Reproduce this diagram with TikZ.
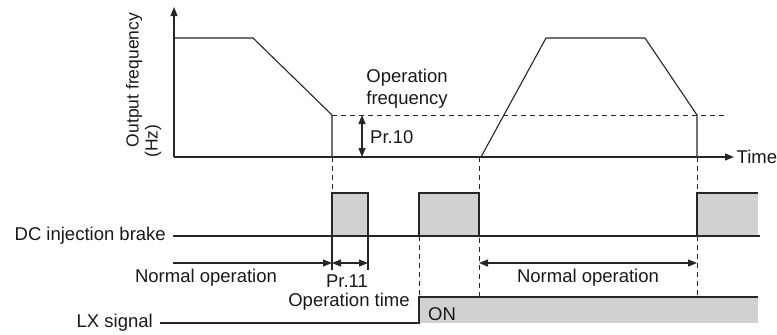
\documentclass[tikz,border=0pt]{standalone}
\usepackage{fontspec}
\setmainfont{Liberation Sans}
\usetikzlibrary{arrows.meta}
\begin{document}
\begin{tikzpicture}[x=1bp,y=-1bp,
  ln/.style={line width=1.1bp, draw=black!85},
  dsh/.style={line width=0.9bp, draw=black!85, dash pattern=on 5bp off 4bp},
  tip/.style={-{Triangle[length=9bp,width=7bp]}},
  dtip/.style={{Triangle[length=9bp,width=7bp]}-{Triangle[length=9bp,width=7bp]}},
  graybox/.style={fill=black!18},
  lbl/.style={font=\fontsize{18.5bp}{22bp}\selectfont, inner sep=0pt, text=black!90},
  rlbl/.style={font=\fontsize{17.5bp}{22bp}\selectfont, inner sep=0pt, text=black!90}]
\useasboundingbox (0,0) rectangle (777,334);
% axes
\coordinate (o) at (174,157);
\coordinate (ytop) at (174,7);
\coordinate (xend) at (734,157);
\draw[ln,tip] (o) -- (ytop);
\draw[ln,tip] (o) -- (xend);
\node[lbl,anchor=west] (time) at (736.5,157) {Time};
\node[rlbl,rotate=90] (ylab1) at (134,80) {Output frequency};
\node[rlbl,rotate=90] (ylab2) at (153,141) {(Hz)};
% frequency curves
\coordinate (a1) at (174,38);
\coordinate (a2) at (253,38);
\coordinate (a3) at (332,115);
\coordinate (a4) at (332,157);
\draw[ln] (a1) -- (a2) -- (a3) -- (a4);
\coordinate (b1) at (481,157);
\coordinate (b2) at (546,38);
\coordinate (b3) at (645,38);
\coordinate (b4) at (697,115);
\coordinate (b5) at (697,157);
\draw[ln] (b1) -- (b2) -- (b3) -- (b4) -- (b5);
\coordinate (dEnd) at (728,115);
\draw[dsh] (a3) -- (dEnd);
% Pr.10
\coordinate (p10t) at (362,115);
\coordinate (p10b) at (362,157);
\draw[ln,dtip] (p10t) -- (p10b);
\node[lbl,anchor=west] (pr10) at (370,137) {Pr.10};
\node[lbl,align=center] (opfreq) at (407,89) {Operation\\frequency};
% DC injection brake
\coordinate (dcL) at (173,236);
\coordinate (dcR) at (760,236);
\coordinate (k1a) at (332,236); \coordinate (k1b) at (332,193);
\coordinate (k1c) at (368,193); \coordinate (k1d) at (368,236);
\coordinate (k2a) at (419,236); \coordinate (k2b) at (419,193);
\coordinate (k2c) at (479,193); \coordinate (k2d) at (479,236);
\coordinate (k3a) at (697,236); \coordinate (k3b) at (697,193);
\coordinate (k3c) at (758,193); \coordinate (k3d) at (758,236);
\fill[graybox] (k1a) rectangle (k1c);
\fill[graybox] (k2a) rectangle (k2c);
\fill[graybox] (k3a) rectangle (k3c);
\draw[ln] (k1a) -- (k1b) -- (k1c) -- (k1d);
\draw[ln] (k2a) -- (k2b) -- (k2c) -- (k2d);
\draw[ln] (k3a) -- (k3b) -- (k3c);
\draw[ln] (dcL) -- (dcR);
\node[lbl,anchor=east] (dc) at (166,236) {DC injection brake};
% dashed guides
\coordinate (g1) at (479,157); \coordinate (g1b) at (479,297);
\coordinate (g2) at (419,297);
\coordinate (g3) at (697,297);
\draw[dsh] (a4) -- (k1b);
\draw[dsh] (g1) -- (g1b);
\draw[dsh] (b5) -- (k3b);
\draw[dsh] (k3a) -- (g3);
\draw[dsh] (k2a) -- (g2);
% time dimensions
\coordinate (e1) at (332,270); \coordinate (e2) at (368,270);
\draw[ln] (k1a) -- (e1);
\draw[ln] (k1d) -- (e2);
\coordinate (n0) at (173,263); \coordinate (n1) at (332,263);
\coordinate (n2) at (368,263);
\coordinate (m0) at (479,263); \coordinate (m1) at (697,263);
\draw[ln,tip] (n0) -- (n1);
\draw[ln,dtip] (n1) -- (n2);
\draw[ln,dtip] (m0) -- (m1);
\node[lbl] (norm1) at (206,278) {Normal operation};
\node[lbl] (pr11) at (347,281) {Pr.11};
\node[lbl] (optime) at (349,302) {Operation time};
\node[lbl] (norm2) at (588,278) {Normal operation};
% LX signal
\coordinate (lx0) at (160,323);
\coordinate (lx1) at (419,323);
\coordinate (lx2) at (419,297);
\coordinate (lx3) at (758,297);
\fill[graybox] (lx1) rectangle (lx3);
\draw[ln] (lx0) -- (lx1) -- (lx2) -- (lx3);
\node[lbl,anchor=west] (on) at (428,314) {ON};
\node[lbl,anchor=east] (lx) at (153,323) {LX signal};
\end{tikzpicture}
\end{document}
